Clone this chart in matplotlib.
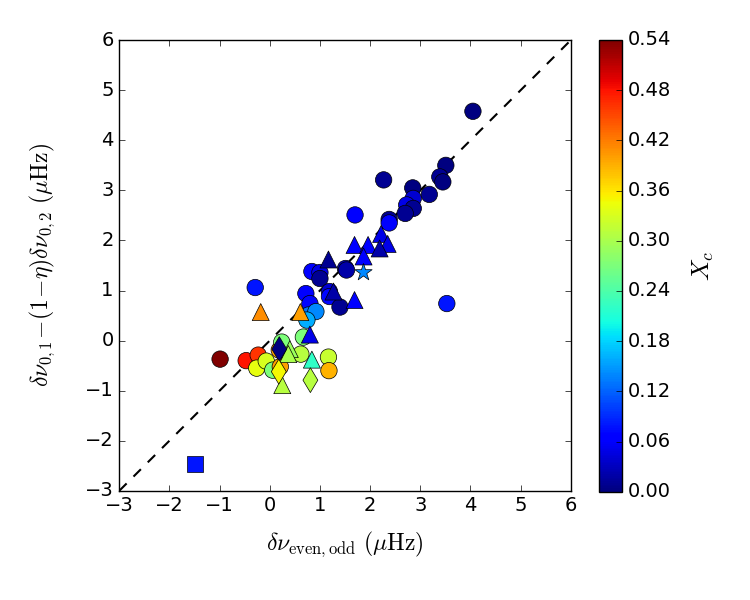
import numpy as np
import matplotlib
matplotlib.use('Agg')
import matplotlib.pyplot as plt

plt.style.use('classic')
plt.rcParams['mathtext.fontset'] = 'cm'

# circles: x, y, Xc
circ_x = [4.05, 3.51, 3.39, 3.45, 2.27, 2.85, 3.18, 2.86, 2.73, 2.86, 2.70, 1.70, 2.38, 2.38,
          1.51, 1.53, 0.84, 1.00, 1.00, 0.72, 0.80, 1.19, 1.19, 1.40, 3.53, -0.29,
          0.77, 0.92, 0.74, 0.67, -0.99, -0.47, -0.23, -0.26, -0.07, 0.19, 0.24, 0.62,
          1.17, 1.18, 0.06, 0.21]
circ_y = [4.58, 3.50, 3.27, 3.17, 3.21, 3.05, 2.92, 2.84, 2.71, 2.64, 2.54, 2.51, 2.42, 2.35,
          1.44, 1.41, 1.38, 1.36, 1.24, 0.94, 0.74, 0.98, 0.88, 0.67, 0.74, 1.06,
          0.51, 0.58, 0.41, 0.07, -0.37, -0.40, -0.29, -0.55, -0.41, -0.19, -0.03, -0.27,
          -0.33, -0.60, -0.59, -0.52]
circ_c = [0.00, 0.00, 0.01, 0.00, 0.01, 0.00, 0.01, 0.04, 0.05, 0.01, 0.01, 0.06, 0.01, 0.06,
          0.03, 0.02, 0.06, 0.05, 0.01, 0.06, 0.07, 0.04, 0.07, 0.01, 0.08, 0.08,
          0.13, 0.14, 0.16, 0.27, 0.54, 0.48, 0.46, 0.34, 0.33, 0.40, 0.27, 0.31,
          0.32, 0.39, 0.27, 0.40]

# triangles
tri_x = [1.17, 1.69, 1.96, 2.22, 2.35, 2.19, 1.87, 1.27, 1.69, -0.18, 0.61, 0.80, 0.40, 0.37, 0.84, 0.25]
tri_y = [1.62, 1.91, 1.91, 2.13, 1.93, 1.84, 1.68, 0.98, 0.81, 0.57, 0.57, 0.12, -0.17, -0.27, -0.38, -0.89]
tri_c = [0.01, 0.06, 0.06, 0.05, 0.05, 0.02, 0.06, 0.02, 0.06, 0.41, 0.40, 0.05, 0.29, 0.30, 0.22, 0.31]

# diamonds
dia_x = [0.19, 0.18, 0.81]
dia_y = [-0.17, -0.62, -0.79]
dia_c = [0.00, 0.35, 0.31]

# square and star
sq_x, sq_y, sq_c = [-1.50], [-2.46], [0.08]
st_x, st_y, st_c = [1.85], [1.37], [0.14]

vmin, vmax = 0.0, 0.54

fig = plt.figure(figsize=(7.5, 6), dpi=100, facecolor='white')
ax = fig.add_axes([0.159, 0.182, 0.602, 0.751])

ax.plot([-3, 6], [-3, 6], 'k--', lw=1.5, dashes=(7.5, 7), zorder=1)

kw = dict(cmap='jet', vmin=vmin, vmax=vmax, edgecolors='k', linewidths=0.5, zorder=2)
sc = ax.scatter(circ_x, circ_y, c=circ_c, marker='o', s=140, **kw)
ax.scatter(tri_x, tri_y, c=tri_c, marker='^', s=150, **kw)
ax.scatter(dia_x, dia_y, c=dia_c, marker='d', s=160, **kw)
ax.scatter(sq_x, sq_y, c=sq_c, marker='s', s=125, **kw)
ax.scatter(st_x, st_y, c=st_c, marker='*', s=170, **kw)

ax.set_xlim(-3, 6)
ax.set_ylim(-3, 6)
ax.set_xticks(np.arange(-3, 7, 1))
ax.set_yticks(np.arange(-3, 7, 1))
ax.tick_params(labelsize=14)
ax.set_xlabel(r'$\delta\nu_{\rm even,odd}\ (\mu\mathrm{Hz})$', fontsize=17, labelpad=10)
ax.set_ylabel(r'$\delta\nu_{0,1}\!-\!(1\!-\!\eta)\delta\nu_{0,2}\ (\mu\mathrm{Hz})$', fontsize=17, labelpad=20)

cax = fig.add_axes([0.799, 0.1805, 0.0303, 0.753])
cb = fig.colorbar(sc, cax=cax, ticks=np.arange(0, 0.541, 0.06), format='%.2f')
cb.ax.tick_params(labelsize=14)
cb.set_label(r'$X_c$', fontsize=18, labelpad=14)

fig.savefig('out.png', dpi=100, facecolor='white')
